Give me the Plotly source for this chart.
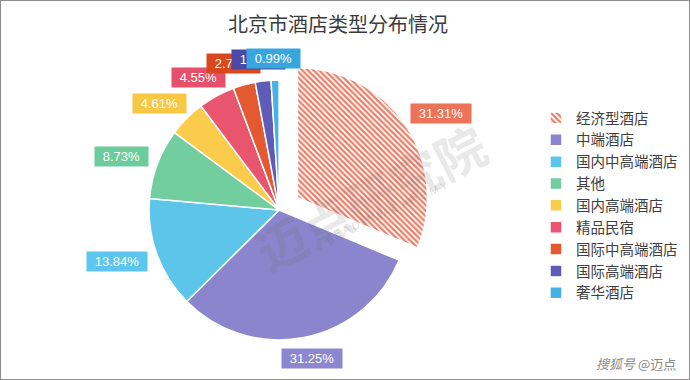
import math
import plotly.graph_objects as go

# ---------------- data ----------------
categories = ["经济型酒店", "中端酒店", "国内中高端酒店", "其他", "国内高端酒店",
              "精品民宿", "国际中高端酒店", "国际高端酒店", "奢华酒店"]
shares = [31.31, 31.25, 13.84, 8.73, 4.61, 4.55, 2.76, 1.96, 0.99]

# ---------------- style ----------------
slice_colors = ["#e97f68", "#8a85cc", "#5ec5ea", "#72cd9f", "#fbcb4b",
                "#e9546f", "#e4592f", "#5e5cb6", "#45b2e6"]
label_colors = ["#ec7359", "#8c87cf", "#5cc6ee", "#6ccc9b", "#f8c845",
                "#e5506a", "#d9471e", "#4a4aa6", "#38a6de"]
pulls = [0.17, 0, 0, 0, 0, 0, 0, 0, 0]
patterns = ["\\", "", "", "", "", "", "", "", ""]

W, H = 690, 380
dom_x = [0.184, 0.625]
dom_y = [0.047, 0.848]
CJK = "Noto Sans CJK SC"

fig = go.Figure(go.Pie(
    labels=categories,
    values=shares,
    sort=False,
    direction="clockwise",
    rotation=0,
    pull=pulls,
    textinfo="none",
    hoverinfo="label+percent",
    marker=dict(
        colors=slice_colors,
        line=dict(color="white", width=1.5),
        pattern=dict(shape=patterns, size=4, solidity=0.55, fillmode="replace"),
    ),
    domain=dict(x=dom_x, y=dom_y),
))

# ---- geometry of the pie (plotly: r = min(box)/ (2 + 2*maxPull)) ----
box_w = W * (dom_x[1] - dom_x[0])
box_h = H * (dom_y[1] - dom_y[0])
r = min(box_w, box_h) / (2 + 2 * max(pulls))
cx = W * (dom_x[0] + dom_x[1]) / 2
cy = H * (1 - (dom_y[0] + dom_y[1]) / 2)

def text_w(s, size):
    wmap = {".": 0.278, "%": 0.889}
    return size * sum(wmap.get(c, 0.556) for c in s)

annotations = []
total = sum(shares)
cum = 0.0
fs = 13
for i, v in enumerate(shares):
    mid = (cum + v / 2) / total * 2 * math.pi
    cum += v
    dx, dy = math.sin(mid), -math.cos(mid)
    ox = cx + pulls[i] * r * dx
    oy = cy + pulls[i] * r * dy
    txt = f"{v:.2f}%"
    bw = text_w(txt, fs) + 14
    bh = 17
    px = ox + (r + 12) * dx + dx * (bw / 2 + 1)
    py = oy + (r + 12) * dy + dy * (bh / 2 + 1)
    annotations.append(dict(
        x=px / W, y=1 - py / H, xref="paper", yref="paper",
        xanchor="center", yanchor="middle",
        text=txt, showarrow=False, width=bw, height=bh, borderpad=1,
        bgcolor=label_colors[i],
        font=dict(family="Liberation Sans, Arial", size=fs, color="white"),
    ))

# watermarks
annotations.append(dict(
    x=370 / W, y=1 - 196 / H, xref="paper", yref="paper",
    text="<b>迈点研究院</b>", showarrow=False, textangle=-27,
    font=dict(family=CJK, size=50, color="rgba(110,110,110,0.15)"),
))
annotations.append(dict(
    x=385 / W, y=1 - 212 / H, xref="paper", yref="paper",
    text="M E A D I N   A C A D E M Y", showarrow=False, textangle=-24,
    font=dict(family="Liberation Sans, Arial", size=11, color="rgba(110,110,110,0.22)"),
))
annotations.append(dict(
    x=678 / W, y=1 - 363 / H, xref="paper", yref="paper",
    xanchor="right", yanchor="middle",
    text="<i>搜狐号</i> @迈点", showarrow=False,
    font=dict(family=CJK, size=13, color="#8a8a8a"),
))

fig.update_layout(
    width=W, height=H, autosize=False,
    margin=dict(l=0, r=0, t=0, b=0),
    paper_bgcolor="white", plot_bgcolor="white",
    title=dict(text="北京市酒店类型分布情况", x=0.49, xanchor="center",
               y=1 - 25 / H, yanchor="middle",
               font=dict(family=CJK, size=20, color="#3c3c3c")),
    legend=dict(x=536 / W, y=1 - 102 / H, xanchor="left", yanchor="top",
                font=dict(family=CJK, size=14.5, color="#404040"),
                bgcolor="rgba(0,0,0,0)", traceorder="normal"),
    annotations=annotations,
    shapes=[dict(type="rect", xref="paper", yref="paper", x0=0, y0=0, x1=1, y1=1,
                 line=dict(color="#8c8c8c", width=2))],
)

fig.write_html("out.html",
               config={"displayModeBar": False},
               post_script="document.body.style.margin='0';document.body.style.padding='0';"
                           "document.body.style.overflow='hidden';")
